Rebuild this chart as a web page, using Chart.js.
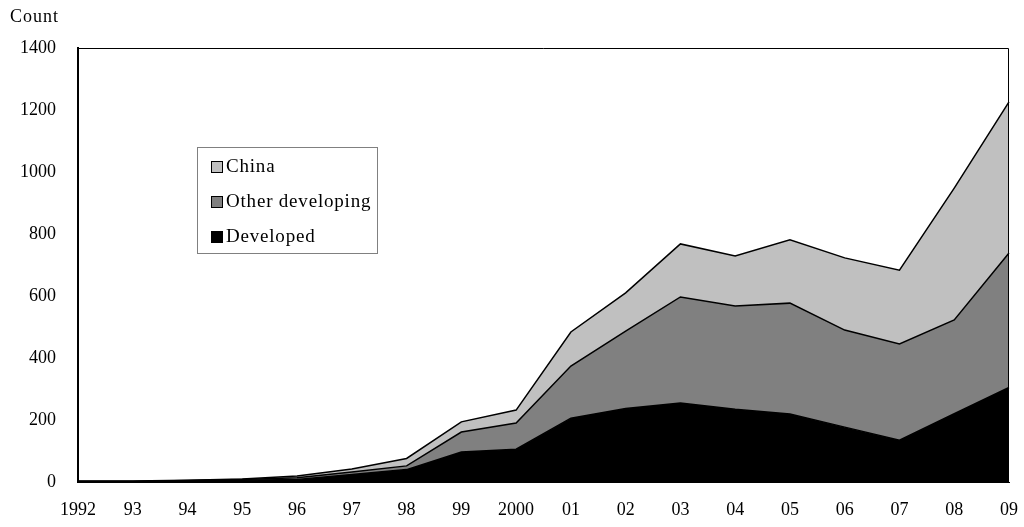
<!DOCTYPE html>
<html>
<head>
<meta charset="utf-8">
<script src="https://cdn.jsdelivr.net/npm/chart.js@4"></script>
<style>
    html, body { margin: 0; padding: 0; background: #fff; }
    #wrap { position: relative; width: 1024px; height: 527px; }
    #yTitle {
        position: absolute; left: 10px; top: 6px;
        font: 18px "Liberation Serif", serif; letter-spacing: 1px; color: #000;
    }
    #legend {
        position: absolute; left: 197px; top: 147px; width: 181px; height: 107px;
        border: 1px solid #808080; box-sizing: border-box;
        font: 19px "Liberation Serif", serif; letter-spacing: 0.8px; color: #000;
        padding-top: 7px;
    }
    #legend div { height: 35px; line-height: 21px; padding-left: 13px; }
    #legend span {
        display: inline-block; width: 10px; height: 10px; border: 1px solid #000;
        margin-right: 3px; vertical-align: -1px;
    }
</style>
</head>
<body>
<div id="wrap">
    <canvas id="chart" width="1024" height="527"></canvas>
    <div id="yTitle">Count</div>
    <div id="legend">
        <div><span style="background:#c0c0c0"></span>China</div>
        <div><span style="background:#808080"></span>Other developing</div>
        <div><span style="background:#000"></span>Developed</div>
    </div>
</div>
<script>
const years = ['1992', '93', '94', '95', '96', '97', '98', '99', '2000', '01', '02', '03', '04', '05', '06', '07', '08', '09'];
const developed = [2, 2, 4, 6, 8, 24, 40, 97, 106, 206, 237, 255, 235, 219, 177, 135, 220, 305];
const otherDeveloping = [0, 0, 1, 2, 6, 8, 12, 64, 84, 168, 250, 342, 333, 358, 313, 310, 303, 434];
const china = [1, 1, 1, 2, 5, 10, 24, 33, 42, 110, 123, 171, 161, 204, 233, 238, 425, 487];

const serif = { family: '"Liberation Serif", serif', size: 18 };

// a bit of letter spacing, the original font runs wider than Times
const spacing = {
    id: 'spacing',
    beforeInit(chart) { chart.ctx.letterSpacing = '0.6px'; }
};

// frame round the plot area (top and right sides)
const frame = {
    id: 'frame',
    afterDraw(chart) {
        const { ctx, chartArea: a } = chart;
        ctx.save();
        ctx.strokeStyle = '#000';
        ctx.lineWidth = 1;
        ctx.beginPath();
        ctx.moveTo(a.left, a.top + 0.5);
        ctx.lineTo(a.right - 0.5, a.top + 0.5);
        ctx.lineTo(a.right - 0.5, a.bottom);
        ctx.stroke();
        ctx.restore();
    }
};

const area = (label, data, color, fill) => ({
    label, data, fill,
    backgroundColor: color,
    borderColor: '#000',
    borderWidth: 1.5,
    pointRadius: 0,
    tension: 0
});

new Chart(document.getElementById('chart'), {
    type: 'line',
    data: {
        labels: years,
        datasets: [
            area('Developed', developed, '#000000', 'origin'),
            area('Other developing', otherDeveloping, '#808080', '-1'),
            area('China', china, '#c0c0c0', '-1')
        ]
    },
    options: {
        responsive: false,
        animation: false,
        layout: { padding: { top: 48, right: 15, left: 0, bottom: 0 } },
        plugins: { legend: { display: false }, tooltip: { enabled: false } },
        scales: {
            x: {
                offset: false,
                grid: { display: false },
                border: { display: true, color: '#000', width: 1 },
                ticks: { color: '#000', font: serif, maxRotation: 0, autoSkip: false, padding: 9 },
                afterFit(scale) {
                    scale.height = 45;
                    scale.paddingRight = 0;
                    scale.paddingLeft = 0;
                }
            },
            y: {
                stacked: true,
                min: 0,
                max: 1400,
                grid: { display: false },
                border: { display: true, color: '#000', width: 2 },
                ticks: { color: '#000', font: serif, stepSize: 200, padding: 14, callback: v => String(v) },
                afterFit(scale) { scale.width = 78; }
            }
        }
    },
    plugins: [spacing, frame]
});
</script>
</body>
</html>
